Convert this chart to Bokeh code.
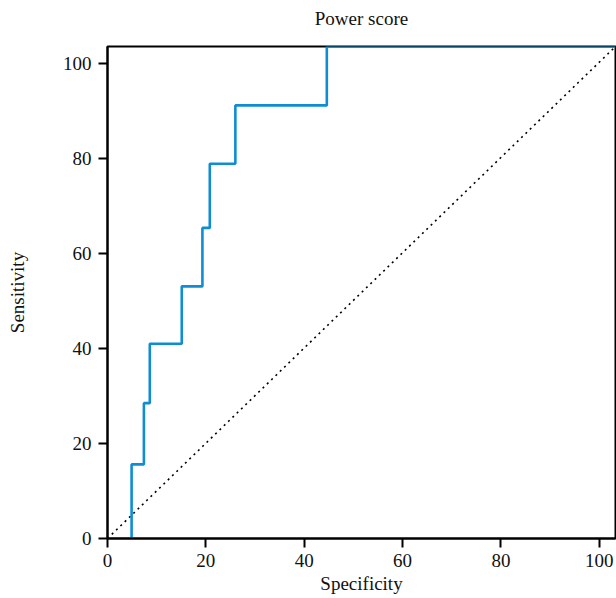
from bokeh.plotting import figure
from bokeh.models import Range1d, FixedTicker, Title
from bokeh.embed import file_html
from bokeh.resources import INLINE

# ROC step curve
specificity = [0, 4.9, 7.4, 8.6, 15.1, 19.3, 20.8, 26.0, 44.6, 103.3]
sensitivity = [0, 15.6, 28.5, 41.0, 53.1, 65.4, 78.9, 91.2, 103.6, 103.6]
# reference (chance) line
diag_x = [0, 103.3]
diag_y = [0, 103.6]
ticks = [0, 20, 40, 60, 80, 100]

FONT = "Liberation Serif"

p = figure(width=616, height=598, output_backend="svg", toolbar_location=None,
           x_range=Range1d(0, 103.3), y_range=Range1d(0, 103.6),
           min_border_left=107, min_border_right=1, min_border_top=45, min_border_bottom=60)
p.title = Title(text="Power score", align="center", text_font=FONT,
                text_font_size="19px", text_font_style="normal", text_color="#111111")
# empty spacer between frame and title
p.add_layout(Title(text=" ", text_font_size="10px", standoff=0), "above")

p.grid.visible = False
p.outline_line_color = "black"
p.outline_line_width = 2

for ax in (p.xaxis[0], p.yaxis[0]):
    ax.ticker = FixedTicker(ticks=ticks)
    ax.axis_line_width = 2
    ax.axis_line_color = "black"
    ax.major_tick_line_width = 2
    ax.major_tick_line_color = "black"
    ax.major_tick_in = 0
    ax.major_tick_out = 9
    ax.minor_tick_line_color = None
    ax.major_label_text_font = FONT
    ax.major_label_text_font_size = "19px"
    ax.major_label_text_color = "#111111"
    ax.axis_label_text_font = FONT
    ax.axis_label_text_font_size = "19px"
    ax.axis_label_text_font_style = "normal"
    ax.axis_label_text_color = "#111111"

p.xaxis.axis_label = "Specificity"
p.yaxis.axis_label = "Sensitivity"
p.xaxis.major_label_standoff = 6
p.yaxis.major_label_standoff = 7
p.xaxis.axis_label_standoff = 3
p.yaxis.axis_label_standoff = 32

p.line(diag_x, diag_y, line_color="black", line_width=1.6, line_dash="2 4")
p.step(specificity, sensitivity, mode="after", line_color="#0f8dd4", line_width=2.6)

open("out.html", "w").write(file_html(p, INLINE))
